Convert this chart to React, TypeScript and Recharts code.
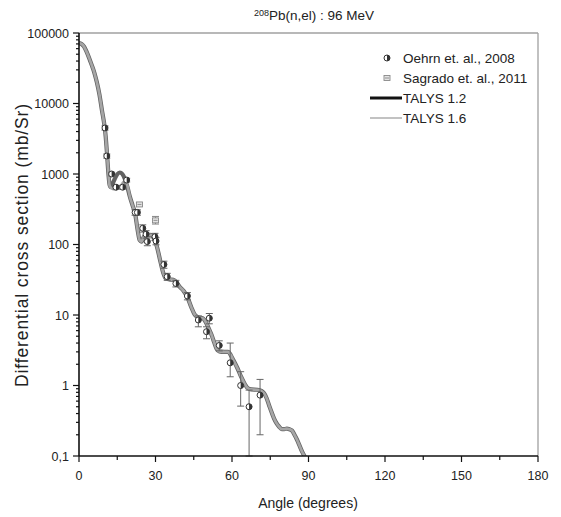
import React from "react";
import { ComposedChart, Line, Scatter, XAxis, YAxis, ErrorBar, ReferenceLine } from "recharts";

// TALYS curves
const talysAngle = [0, 1, 2, 3, 4, 5, 6, 7, 8, 9, 10, 10.5, 11, 11.5, 12, 12.5, 13, 14, 15, 16, 17, 18, 19, 20, 21, 22, 23, 23.8, 24.5, 25.5, 27, 28.5, 29.5, 30.5, 31.8, 33, 34, 35.5, 37.5, 39.5, 41, 42.5, 44, 45.5, 47, 48.5, 50, 51, 52, 53, 54, 55, 57, 58.5, 59.5, 60.5, 62, 63.5, 65, 66, 67.5, 70, 71.5, 72.5, 73.5, 74.5, 75.5, 76.5, 77.5, 78.5, 79.5, 80.5, 81.5, 82.5, 83.5, 84.5, 85.5, 86.5, 87.5, 88.5, 89.2];
const talys12Value = [72000, 70000, 64000, 54000, 44000, 35000, 27500, 20000, 13500, 8000, 4800, 3300, 1900, 1050, 700, 650, 700, 850, 990, 1050, 1000, 850, 650, 470, 360, 275, 160, 115, 110, 130, 138, 135, 118, 95, 60, 40, 33, 32, 31, 25, 22, 18, 13, 10, 9.2, 9.0, 7.6, 6.3, 5.2, 4.1, 3.3, 3.05, 3.0, 3.0, 2.7, 2.3, 1.8, 1.35, 1.05, 0.93, 0.88, 0.87, 0.84, 0.78, 0.67, 0.53, 0.42, 0.34, 0.29, 0.26, 0.24, 0.24, 0.245, 0.24, 0.23, 0.2, 0.17, 0.14, 0.115, 0.098, 0.085];
const talys16Value = [72000, 70000, 64000, 54000, 44000, 35000, 27500, 20000, 13500, 8000, 4800, 3300, 1900, 1050, 680, 640, 620, 610, 620, 650, 730, 800, 680, 470, 360, 275, 160, 115, 110, 130, 138, 135, 118, 95, 60, 40, 33, 32, 31, 25, 22, 18, 13, 10, 9.2, 9.0, 7.6, 6.3, 5.2, 4.1, 3.3, 3.05, 3.0, 3.0, 2.7, 2.3, 1.8, 1.35, 1.05, 0.93, 0.88, 0.87, 0.84, 0.78, 0.67, 0.53, 0.42, 0.34, 0.29, 0.26, 0.24, 0.24, 0.245, 0.24, 0.23, 0.2, 0.17, 0.14, 0.115, 0.098, 0.085];

// Oehrn et al., 2008
const oehrnAngle = [10.2, 10.9, 12.8, 14.5, 17.1, 18.7, 22.0, 22.9, 25.0, 26.3, 26.8, 29.8, 30.2, 33.3, 34.6, 38.0, 42.5, 46.8, 50.0, 51.1, 55.0, 59.3, 63.4, 66.7, 71.0];
const oehrnValue = [4500, 1800, 1000, 650, 650, 820, 285, 285, 170, 140, 110, 129, 112, 52, 35, 28, 18.6, 8.5, 5.8, 9.0, 3.7, 2.1, 1.0, 0.5, 0.73];
const oehrnErrLow = [300, 120, 60, 40, 40, 50, 25, 25, 20, 17, 14, 15, 13, 6, 4, 3, 2.2, 1.7, 1.2, 1.5, 0.6, 0.77, 0.49, 0.4, 0.53];
const oehrnErrHigh = [300, 120, 60, 40, 40, 50, 25, 25, 20, 17, 14, 15, 13, 6, 4, 3, 2.2, 1.2, 1.0, 1.5, 0.6, 1.9, 0.57, 0.36, 0.49];

// Sagrado et al., 2011
const sagradoAngle = [23.7, 30.0];
const sagradoValue = [370, 220];
const sagradoErrLow = [20, 25];
const sagradoErrHigh = [20, 30];

const xTicks = [0, 15, 30, 45, 60, 75, 90, 105, 120, 135, 150, 165, 180];
const yDecades = [0.1, 1, 10, 100, 1000, 10000, 100000];

const yTicks: number[] = [];
yDecades.forEach((d, i) => {
  yTicks.push(d);
  if (i < yDecades.length - 1) {
    for (let k = 2; k <= 9; k++) yTicks.push(+(d * k).toPrecision(6));
  }
});

const talys12 = talysAngle.map((a, i) => ({ angle: a, value: talys12Value[i] }));
const talys16 = talysAngle.map((a, i) => ({ angle: a, value: talys16Value[i] }));
const oehrn = oehrnAngle.map((a, i) => ({ angle: a, value: oehrnValue[i], ey: [oehrnErrLow[i], oehrnErrHigh[i]] }));
const sagrado = sagradoAngle.map((a, i) => ({ angle: a, value: sagradoValue[i], ey: [sagradoErrLow[i], sagradoErrHigh[i]] }));

const FONT = "'Liberation Sans', Arial, Helvetica, sans-serif";

function fmtY(v: number) {
  return v < 1 ? String(v).replace(".", ",") : String(v);
}

function YTick(props: any) {
  const { x, y, payload } = props;
  const v = payload.value;
  const lg = Math.log10(v);
  const major = Math.abs(lg - Math.round(lg)) < 1e-6;
  return (
    <g>
      <line x1={x - (major ? 6 : 3)} x2={x} y1={y} y2={y} stroke="#111" strokeWidth={1.2} />
      {major && (
        <text x={x - 10} y={y} dy={4.5} textAnchor="end" fontSize={12.5} fill="#222" fontFamily={FONT}>
          {fmtY(v)}
        </text>
      )}
    </g>
  );
}

function XTick(props: any) {
  const { x, y, payload } = props;
  const v = payload.value;
  const major = v % 30 === 0;
  return (
    <g>
      <line x1={x} x2={x} y1={y} y2={y + (major ? 6 : 4)} stroke="#111" strokeWidth={1.2} />
      {major && (
        <text x={x} y={y + 24} textAnchor="middle" fontSize={12.5} fill="#222" fontFamily={FONT}>
          {v}
        </text>
      )}
    </g>
  );
}

function HalfCircle(props: any) {
  const { cx, cy } = props;
  if (cx == null || cy == null) return null;
  const r = 3;
  return (
    <g>
      <circle cx={cx} cy={cy} r={r} fill="#fff" stroke="#333" strokeWidth={1} />
      <path d={`M ${cx} ${cy - r} A ${r} ${r} 0 0 1 ${cx} ${cy + r} Z`} fill="#333" />
    </g>
  );
}

function SquareMark(props: any) {
  const { cx, cy } = props;
  if (cx == null || cy == null) return null;
  return (
    <g>
      <rect x={cx - 3} y={cy - 2.5} width={6} height={5} fill="#e4e4e4" stroke="#888" strokeWidth={0.9} />
      <line x1={cx - 2} x2={cx + 2} y1={cy} y2={cy} stroke="#888" strokeWidth={0.9} />
    </g>
  );
}

const W = 545;
const H = 509;

export default function App() {
  return (
    <div style={{ position: "relative", width: W, height: H, background: "#fff" }}>
      <ComposedChart width={W} height={H} margin={{ top: 25, right: 15, left: 0, bottom: 0 }}>
        <XAxis
          dataKey="angle"
          type="number"
          domain={[0, 180]}
          ticks={xTicks}
          interval={0}
          tickSize={0}
          tickMargin={0}
          tickLine={false}
          tick={<XTick />}
          height={61}
          axisLine={{ stroke: "#111", strokeWidth: 1.6 }}
          allowDataOverflow
        />
        <YAxis
          type="number"
          scale="log"
          domain={[0.1, 100000]}
          ticks={yTicks}
          interval={0}
          tickSize={0}
          tickMargin={0}
          tickLine={false}
          tick={<YTick />}
          width={71}
          axisLine={{ stroke: "#111", strokeWidth: 1.6 }}
          allowDataOverflow
        />
        <ReferenceLine y={100000} stroke="#a0a0a0" strokeWidth={1.3} />
        <ReferenceLine x={180} stroke="#a0a0a0" strokeWidth={1.3} />
        <Line data={talys12} dataKey="value" type="monotone" stroke="#626262" strokeWidth={4.2} dot={false} isAnimationActive={false} />
        <Line data={talys16} dataKey="value" type="monotone" stroke="#a6a6a6" strokeWidth={2.7} dot={false} isAnimationActive={false} />
        <Scatter data={oehrn} dataKey="value" shape={<HalfCircle />} isAnimationActive={false}>
          <ErrorBar dataKey="ey" direction="y" width={3.5} stroke="#666" strokeWidth={1} />
        </Scatter>
        <Scatter data={sagrado} dataKey="value" shape={<SquareMark />} isAnimationActive={false}>
          <ErrorBar dataKey="ey" direction="y" width={3.5} stroke="#888" strokeWidth={1} />
        </Scatter>
      </ComposedChart>
      <svg width={W} height={H} style={{ position: "absolute", left: 0, top: 0, pointerEvents: "none" }}>
        <text x={306} y={12} textAnchor="middle" fontFamily={FONT} fill="#222">
          <tspan fontSize={9} dy={-4.5}>208</tspan>
          <tspan fontSize={13.5} dy={4.5}>Pb(n,el) : 96 MeV</tspan>
        </text>
        <text
          x={14}
          y={237}
          transform="rotate(-90 14 237)"
          textAnchor="middle"
          dominantBaseline="central"
          fontSize={17.5}
          letterSpacing={0.9}
          fontFamily={FONT}
          fill="#222"
        >
          Differential cross section (mb/Sr)
        </text>
        <text x={300} y={500} textAnchor="middle" fontSize={14} fontFamily={FONT} fill="#222">
          Angle (degrees)
        </text>
        {/* legend */}
        <g fontFamily={FONT} fontSize={13.5} fill="#222">
          <HalfCircle cx={379} cy={50} />
          <text x={395} y={55}>Oehrn et. al., 2008</text>
          <SquareMark cx={379} cy={70} />
          <text x={395} y={75}>Sagrado et. al., 2011</text>
          <line x1={362} x2={394} y1={90} y2={90} stroke="#111" strokeWidth={3} />
          <text x={395} y={95}>TALYS 1.2</text>
          <line x1={362} x2={394} y1={110} y2={110} stroke="#999" strokeWidth={1.2} />
          <text x={395} y={115}>TALYS 1.6</text>
        </g>
      </svg>
    </div>
  );
}
